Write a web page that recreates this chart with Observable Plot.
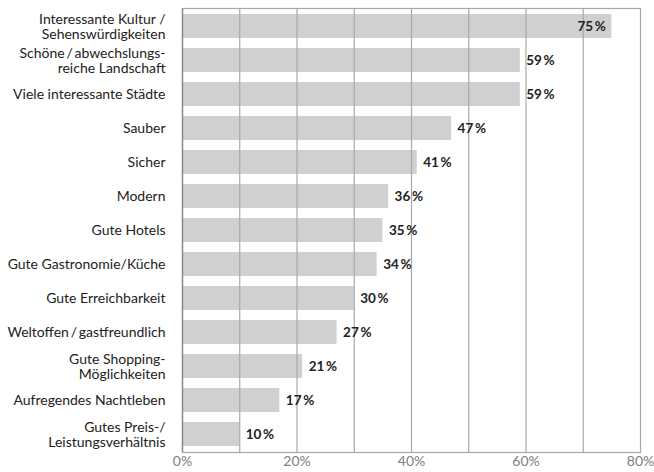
<!DOCTYPE html>
<html>
<head>
<meta charset="utf-8">
<script src="https://cdn.jsdelivr.net/npm/d3@7"></script>
<script src="https://cdn.jsdelivr.net/npm/@observablehq/plot@0.6"></script>
<style>
  html, body { margin: 0; padding: 0; background: #fff; }
  #chart svg { display: block; }
</style>
</head>
<body>
<div id="chart"></div>
<script>
const categories = [
  "Interessante Kultur /\nSehenswürdigkeiten",
  "Schöne\u2009/\u2009abwechslungs-\nreiche Landschaft",
  "Viele interessante Städte",
  "Sauber",
  "Sicher",
  "Modern",
  "Gute Hotels",
  "Gute Gastronomie/Küche",
  "Gute Erreichbarkeit",
  "Weltoffen\u2009/\u2009gastfreundlich",
  "Gute Shopping-\nMöglichkeiten",
  "Aufregendes Nachtleben",
  "Gutes Preis-/\nLeistungsverhältnis"
];
const values = [75, 59, 59, 47, 41, 36, 35, 34, 30, 27, 21, 17, 10];
const xTicks = [0, 20, 40, 60, 80];
const gridValues = [10, 20, 30, 40, 50, 60, 70];

const data = categories.map((c, i) => ({label: c, value: values[i]}));
const insideLabels = data.filter(d => d.value >= 70);
const outsideLabels = data.filter(d => d.value < 70);
const fmt = v => v + "\u2009%";

const chart = Plot.plot({
  width: 654,
  height: 472,
  marginLeft: 182,
  marginRight: 14,
  marginTop: 8,
  marginBottom: 20,
  style: {fontFamily: "Lato, sans-serif", fontSize: "14px", color: "#222", background: "#fff"},
  x: {domain: [0, 80], axis: null, label: null},
  y: {domain: categories, padding: 0, axis: null, label: null},
  marks: [
    Plot.barX(data, {x: "value", y: "label", fill: "#d0d0d0", insetTop: 5, insetBottom: 5}),
    Plot.ruleX(gridValues, {stroke: "#a8a8a8", strokeWidth: 1.2}),
    Plot.frame({stroke: "#a8a8a8", strokeWidth: 1.2}),
    Plot.ruleX([0], {stroke: "#8a8a8a", strokeWidth: 1.4}),
    Plot.axisX({ticks: xTicks, tickFormat: d => d + "%", tickSize: 0, tickPadding: 4, fill: "#808080", fontSize: 14, label: null}),
    Plot.text(data, {y: "label", text: "label", frameAnchor: "left", textAnchor: "end", dx: -17, fill: "#222", fontSize: 14, lineHeight: 1.1}),
    Plot.text(outsideLabels, {x: "value", y: "label", text: d => fmt(d.value), textAnchor: "start", dx: 6, fontWeight: "bold", fill: "#222", fontSize: 13.5}),
    Plot.text(insideLabels, {x: "value", y: "label", text: d => fmt(d.value), textAnchor: "end", dx: -6, fontWeight: "bold", fill: "#222", fontSize: 13.5})
  ]
});
document.getElementById("chart").appendChild(chart);
</script>
</body>
</html>
